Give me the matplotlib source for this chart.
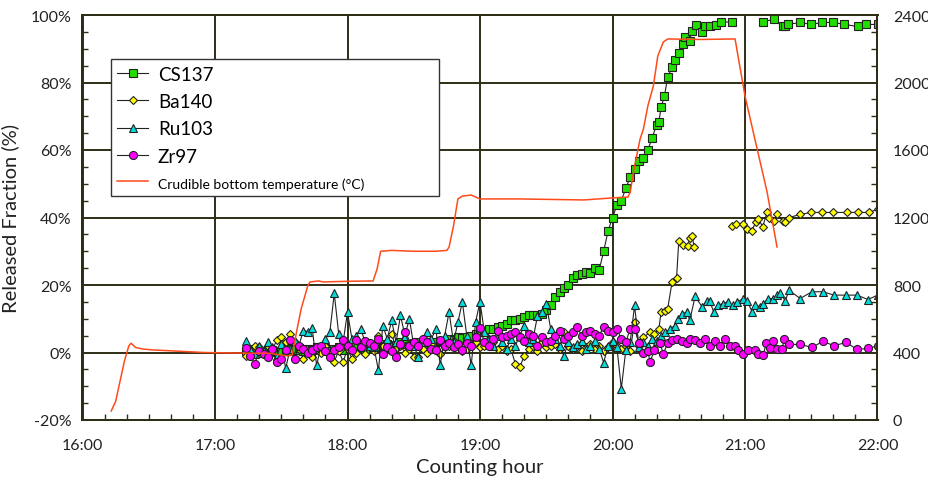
import numpy as np
import matplotlib
matplotlib.use("Agg")
import matplotlib.pyplot as plt
from matplotlib.patches import Rectangle
from matplotlib.ticker import MultipleLocator

plt.rcParams['font.family'] = ['Lato', 'DejaVu Sans']

# sampling times in minutes after 16:00 (dense part, 17:14 - 20:10)
dense_min = [74, 76, 78, 80, 82, 84, 86, 88, 90, 92,
             94, 96, 98, 100, 102, 104, 106, 108, 110, 112,
             114, 116, 118, 120, 122, 124, 126, 128, 130, 132,
             134, 136, 138, 140, 142, 144, 146, 148, 150, 152,
             154, 156, 158, 160, 162, 164, 166, 168, 170, 172,
             174, 176, 178, 180, 182, 184, 186, 188, 190, 192,
             194, 196, 198, 200, 202, 204, 206, 208, 210, 212,
             214, 216, 218, 220, 222, 224, 226, 228, 230, 232,
             234, 236, 238, 240, 242, 244, 246, 248, 250]

cs_dense = [0.5, 0.2, 1.0, 0.0, 0.3, -0.3, 0.8, 0.2, 0.5, 1.0,
            0.3, 0.8, 1.2, 0.5, 1.0, 0.6, 1.5, 0.8, 1.2, 0.4,
            1.0, 1.5, 0.8, 1.8, 1.2, 2.0, 1.5, 1.0, 2.2, 1.6,
            2.0, 1.4, 2.5, 1.8, 2.2, 3.0, 2.4, 1.8, 2.8, 3.2,
            2.5, 3.0, 2.8, 3.2, 3.5, 3.4, 4.0, 3.8, 4.5, 4.2,
            4.5, 5.0, 5.5, 6.0, 6.5, 7.0, 7.0, 7.5, 8.0, 8.5,
            9.5, 9.5, 10.0, 10.5, 11.0, 11.0, 11.2, 11.5, 12.5, 14.0,
            16.5, 17.8, 19.0, 20.0, 22.0, 23.0, 23.4, 24.0, 23.7, 25.0,
            24.5, 30.0, 36.0, 40.0, 43.6, 45.0, 48.6, 52.0, 54.5]
ba_dense = [-1.0, 0.5, 2.0, 1.5, 0.0, 2.0, 1.0, 3.6, 4.7, 3.0,
            5.6, 3.0, 1.0, -1.8, 0.5, -1.2, 1.0, 0.0, 2.0, -0.5,
            -2.7, 0.5, -2.7, 1.0, -1.8, 0.0, 1.5, -0.5, 2.0, 0.5,
            5.0, 2.0, 3.0, 5.6, 1.0, 2.0, 0.0, 1.0, -1.2, -1.2,
            1.0, 0.0, 2.5, 1.0, -0.5, 1.5, 2.0, 3.3, 2.0, 0.5,
            1.0, 2.5, 3.0, 1.5, 2.0, 4.0, 3.0, 1.0, 2.0, 0.5,
            1.0, -3.3, -4.4, -1.0, 1.0, 2.0, 0.5, 3.0, 1.5, 2.0,
            2.5, 1.0, 6.0, 1.8, 1.0, 2.0, 0.5, 1.5, 2.5, 1.0,
            2.0, 0.5, 1.5, 3.0, 2.0, 1.0, 2.0, 0.5, 9.0]
ru_dense = [3.3, 1.0, -0.5, 2.0, 0.5, 3.0, 1.5, -1.0, 2.5, -4.7,
            1.0, 3.5, 2.0, 6.5, 6.2, 7.4, -3.8, 2.0, 4.0, 6.0,
            17.5, 5.6, 3.0, 12.0, 4.0, 5.0, 7.0, 3.0, 2.0, 1.5,
            -5.3, 8.0, 4.0, 9.5, 3.0, 11.0, 5.0, 10.0, 2.0, -1.2,
            3.0, 6.2, 4.0, 7.0, -3.8, 5.0, 12.0, 3.0, 9.0, 15.0,
            5.0, -3.8, 9.0, 15.0, 6.0, 4.0, 2.0, 5.0, 3.0, 1.0,
            4.0, 2.0, 5.0, 8.0, 3.0, 4.0, 10.7, 12.0, 14.5, 7.0,
            4.0, 2.0, -1.0, 3.0, 1.5, 2.5, 3.3, 1.0, 2.0, 3.3,
            1.0, -3.0, 2.0, 3.5, 1.5, -10.7, 0.6, 3.0, 14.0]
zr_dense = [1.2, -1.0, -3.3, 0.5, -0.5, -1.2, 1.0, -2.7, -2.0, 0.6,
            3.6, -1.8, 2.0, 1.0, 0.0, 0.6, 1.5, 2.0, 0.5, -1.2,
            0.6, 1.5, 3.6, 2.0, 0.6, 3.6, 1.5, 3.3, 2.7, 2.0,
            4.0, -0.3, 1.5, 0.5, -1.2, 2.5, 6.2, 2.0, 3.0, 2.0,
            4.0, 3.0, 1.0, 0.6, 3.6, 2.0, 2.7, 1.5, 2.5, 0.6,
            2.7, 2.0, 4.7, 7.4, 3.0, 1.8, 4.0, 6.5, 4.5, 5.0,
            5.6, 6.2, 4.5, 3.5, 5.5, 5.0, 2.0, 4.5, 3.0, 3.3,
            5.0, 6.5, 4.0, 5.0, 6.0, 7.7, 5.0, 6.0, 6.5, 5.5,
            5.0, 7.7, 6.5, 6.0, 7.0, 4.0, 3.0, 7.0, 7.0]

# later parts (nan = gap in the record)
cs_late_min = [252, 254, 256, 258, 260, 261, 262, 263.5, 265, 267, 268.5, 270,
               272, 273, 275, 276, 278, 280.5, 282, 284, 287, 289, 294, 301,
               308, 313, 317, 318, 319.5, 325, 330, 335, 340, 345, 351, 355, 360]
cs_late = [56.6, 57.5, 60.0, 63.7, 67.5, 68.4, 72.6, 76.0, 81.5, 84.7, 86.8, 88.6,
           91.5, 93.6, 92.4, 95.4, 97.0, 95.0, 96.6, 96.6, 97.0, 97.8, 98.0, np.nan,
           98.0, 98.7, 96.6, 96.6, 97.2, 97.8, 97.2, 97.8, 97.8, 97.2, 96.6, 97.2, 97.2]

ba_late_min = [252, 254, 257, 259, 261, 262, 264, 265, 267, 269, 270, 272, 274,
               275, 276, 277, 285, 294, 296, 299, 301, 303, 305, 306, 308, 310,
               311, 313, 314.5, 317, 318, 320, 325, 330, 335, 340, 346, 351, 356, 360]
ba_late = [2.0, 4.5, 6.0, 5.6, 7.0, 12.0, 12.4, 13.0, 21.0, 22.0, 33.0, 32.0, 31.7,
           33.8, 34.4, 31.4, np.nan, 37.6, 38.2, 38.0, 36.7, 36.0, 38.8, 39.7, 37.3, 41.5,
           40.0, 39.0, 41.0, 39.0, 38.8, 40.0, 40.9, 41.5, 41.5, 41.5, 41.5, 41.5, 41.5, 42.4]

ru_late_min = [252, 254, 256, 258, 260, 262, 264, 266, 268.3, 269.6, 271.5, 273.7,
               275, 277.4, 280.5, 282.8, 284, 285.8, 287.6, 290, 292.1, 294.4, 296.6,
               299.2, 301, 303.2, 304.6, 306.8, 308.3, 310.5, 312.8, 314.5, 315.9,
               318.2, 320, 325, 330.3, 335.3, 340.3, 345.8, 350.7, 355.7, 360]
ru_late = [1.5, 3.0, 2.0, 4.0, 3.5, 5.0, 6.0, 7.0, 8.0, 10.0, 11.5, 12.0,
           9.5, 16.6, 13.6, 15.4, 15.4, 12.0, 14.0, 14.5, 15.0, 14.0, 15.0,
           16.0, 15.4, 12.0, 14.0, 13.6, 14.5, 16.0, 16.0, 17.0, 17.5,
           15.4, 18.4, 16.0, 18.0, 18.0, 17.0, 17.0, 17.0, 15.7, 17.0]

zr_late_min = [252, 254, 256, 257, 259, 261.5, 263, 265, 267, 269, 271.5, 273.7,
               275, 277.4, 279.6, 282, 284, 286.4, 288.7, 291, 293, 295.5, 297,
               299, 301.4, 304.6, 306, 308.3, 309.6, 311.4, 312.8, 314.5, 316.8,
               317.7, 320, 325, 330.3, 335.3, 340.3, 345.8, 350.7, 355.7, 360]
zr_late = [2.7, 0.0, 0.3, -2.7, 0.6, 2.7, -0.3, 2.7, 3.6, 4.0, 3.3, 2.7,
           4.0, 3.6, 2.7, 4.0, 2.0, 3.3, 2.0, 4.0, 1.8, 1.8, 0.6,
           -0.3, 0.6, 0.6, -0.3, -0.6, 2.7, 1.2, 3.3, 0.9, 0.9,
           4.0, 2.4, 2.4, 1.5, 3.3, 2.0, 3.0, 0.9, 1.2, 2.0]

# crucible bottom temperature (deg C)
temp_min = [13, 15, 17, 19, 21, 22, 24, 27, 32, 40,
            55, 70, 85, 90, 93, 95, 97, 99, 102, 103,
            107, 109, 120, 131.6, 133.4, 135, 140, 150, 160, 165,
            166, 168, 170, 172, 176, 180, 198, 227, 240, 247,
            248, 250, 252.5, 254, 256, 258.5, 260.5, 263, 265, 280,
            295.5, 300, 305.5, 310, 314.5]
temp = [53, 110, 230, 350, 440, 455, 430, 421, 415, 410,
        400, 397, 395, 385, 380, 385, 527, 658, 794, 818,
        824, 818, 822, 824, 895, 1000, 1005, 1000, 1000, 1005,
        1025, 1150, 1310, 1327, 1333, 1310, 1310, 1304, 1316, 1321,
        1351, 1505, 1665, 1724, 1861, 1979, 2157, 2240, 2258, 2255,
        2258, 1920, 1606, 1351, 1025]

hour_labels = ['16:00', '17:00', '18:00', '19:00', '20:00', '21:00', '22:00']


def to_hours(minutes):
    return 16 + np.array(minutes, dtype=float) / 60


fig = plt.figure(figsize=(9.29, 4.85), dpi=100)
ax = fig.add_axes([82.5 / 929, 1 - 421 / 485, 795 / 929, 405 / 485])
ax2 = ax.twinx()

edge = '#222222'
series = [
    ('CS137', cs_dense, cs_late_min, cs_late, 's', '#22dd00', 5.2),
    ('Ba140', ba_dense, ba_late_min, ba_late, 'D', '#ffff00', 4.3),
    ('Ru103', ru_dense, ru_late_min, ru_late, '^', '#00dddd', 6.0),
    ('Zr97', zr_dense, zr_late_min, zr_late, 'o', '#ff00ff', 5.8),
]
handles = []
for name, dense, late_min, late, mk, col, ms in series:
    x = to_hours(dense_min + late_min)
    y = dense + late
    h, = ax.plot(x, y, color=edge, lw=0.8, marker=mk, ms=ms, mfc=col,
                 mec=edge, mew=0.8, label=name)
    handles.append(h)

ht, = ax2.plot(to_hours(temp_min), temp, color='#ff4a1a', lw=1.1,
               label='Crudible bottom temperature (°C)')
handles.append(ht)

ax.set_xlim(16, 22)
ax.set_ylim(-20, 100)
ax2.set_ylim(0, 2400)
ax.set_xticks(range(16, 23))
ax.set_xticklabels(hour_labels)
ax.set_yticks(range(-20, 101, 20))
ax.set_yticklabels([f'{v}%' for v in range(-20, 101, 20)])
ax2.set_yticks(range(0, 2401, 400))
ax.xaxis.set_minor_locator(MultipleLocator(1 / 6))
ax.yaxis.set_minor_locator(MultipleLocator(5))
ax2.yaxis.set_minor_locator(MultipleLocator(100))

gridc = '#2e2e16'
ax.grid(True, which='major', color=gridc, lw=1.4)
ax.set_axisbelow(True)
for a in (ax, ax2):
    for s in a.spines.values():
        s.set_color(gridc)
        s.set_linewidth(1.4)

ax.tick_params(which='major', length=0, labelsize=11.5, colors='#222222')
ax.tick_params(axis='x', which='major', pad=13)
ax.tick_params(axis='y', which='major', pad=8)
ax.tick_params(which='minor', direction='in', length=4, color=gridc, width=1)
ax2.tick_params(which='major', length=0, labelsize=11.5, colors='#222222', pad=11)
ax2.tick_params(which='minor', direction='in', length=4, color=gridc, width=1)

ax.set_xlabel('Counting hour', fontsize=14.5, color='#222222', labelpad=4)
ax.set_ylabel('Released Fraction (%)', fontsize=14.5, color='#222222', labelpad=8)

box = Rectangle((111 / 929, 1 - 197 / 485), 328 / 929, 137 / 485,
                transform=fig.transFigure, facecolor='white',
                edgecolor='#333333', lw=1.0, zorder=3)
fig.add_artist(box)
leg = fig.legend(handles=handles, loc='upper left',
                 bbox_to_anchor=(111 / 929, 1 - 61 / 485), frameon=False,
                 fontsize=13.5, handlelength=1.7, handletextpad=0.5,
                 labelspacing=0.55, borderaxespad=0, borderpad=0.3)
leg.set_zorder(4)
leg.get_texts()[4].set_fontsize(10)

fig.savefig('out.png', dpi=100)
